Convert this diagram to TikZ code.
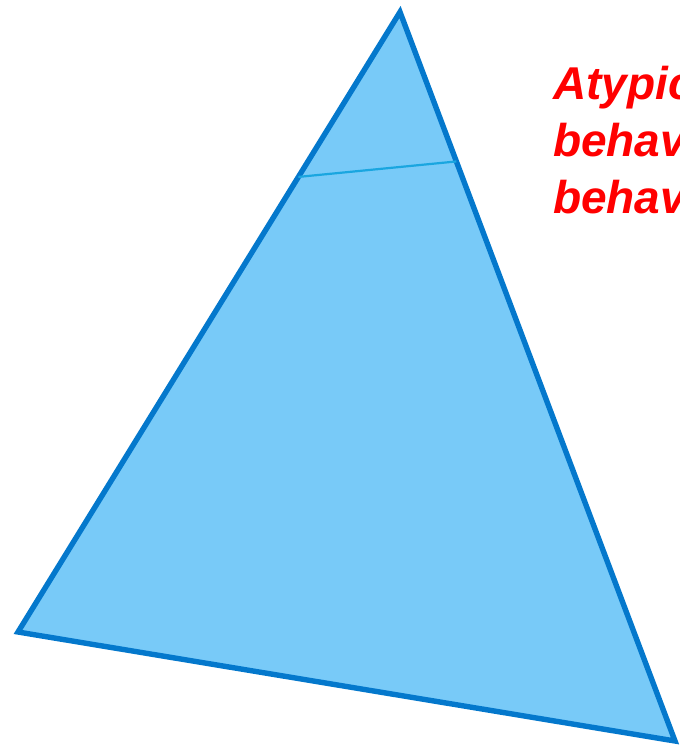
\documentclass[tikz,border=0pt]{standalone}
\usepackage{fontspec}
\setmainfont{Liberation Sans}
\usetikzlibrary{calc}
\definecolor{triblue}{HTML}{78CAF8}
\definecolor{edgeblue}{HTML}{0478CC}
\definecolor{layerblue}{HTML}{1AA6E0}
\definecolor{notered}{HTML}{FF0000}

\begin{document}
\begin{tikzpicture}[x=1pt, y=-1pt,
  tri/.style={fill=triblue, draw=edgeblue, line width=5.4pt, line join=miter},
  divider/.style={draw=layerblue, line width=2.2pt},
  note/.style={text=notered, font=\bfseries\itshape\fontsize{46}{57}\selectfont,
    align=left, anchor=north west, inner sep=0pt}
]
\useasboundingbox (0,0) rectangle (679,751);
\clip (0,0) rectangle (679,751);
\coordinate (apex) at (400,12);
\coordinate (left) at (18,632);
\coordinate (right) at (675,741);
\draw[tri] (apex) -- (left) -- (right) -- cycle;
\coordinate (divl) at ($(apex)!0.266!(left)$);
\coordinate (divr) at ($(apex)!0.205!(right)$);
\draw[divider] (divl) -- (divr);
\node[note] (atypical) at (553,66) {Atypic\\behav\\behav};
\end{tikzpicture}
\end{document}
